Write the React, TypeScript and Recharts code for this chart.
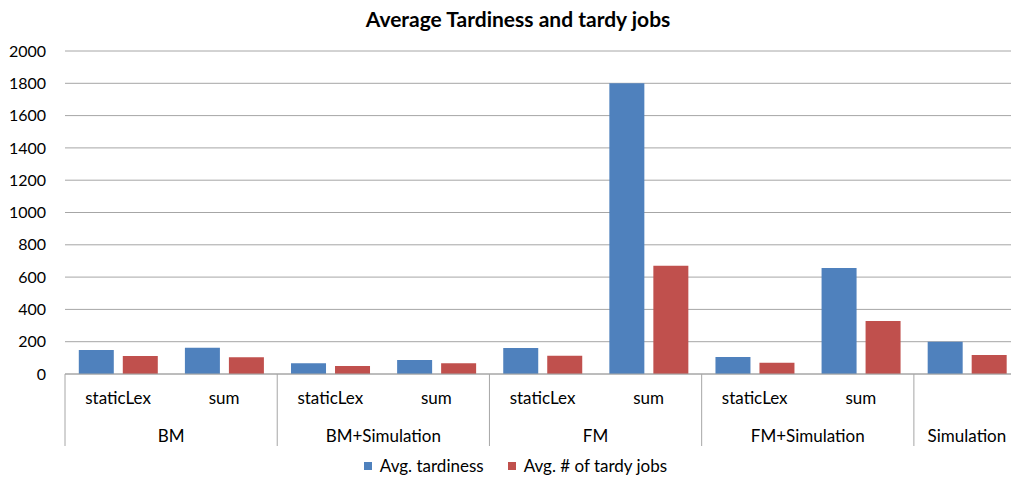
import { BarChart, Bar, XAxis, YAxis, CartesianGrid, Legend } from 'recharts';

const categories = ['staticLex', 'sum', 'staticLex', 'sum', 'staticLex', 'sum', 'staticLex', 'sum', ''];
const groups = [
  'BM', 'BM',
  'BM+Simulation', 'BM+Simulation',
  'FM', 'FM',
  'FM+Simulation', 'FM+Simulation',
  'Simulation',
];
const avgTardiness = [149, 163, 66, 87, 161, 1800, 105, 656, 200];
const avgTardyJobs = [111, 103, 50, 66, 113, 670, 70, 328, 118];
const yTicks = [0, 200, 400, 600, 800, 1000, 1200, 1400, 1600, 1800, 2000];

const chartData = categories.map((c, i) => ({
  id: `${groups[i]}-${c}-${i}`,
  tardiness: avgTardiness[i],
  tardyJobs: avgTardyJobs[i],
}));

const CHART_W = 1020;
const CHART_H = 478;
const Y_AXIS_W = 65;
const BAND = (CHART_W - Y_AXIS_W) / categories.length;
const FONT = 'Lato, "Open Sans", sans-serif';
const AXIS_GRAY = '#a6a6a6';

function CategoryTick(props: any) {
  const { x, y, index } = props;
  const i = index ?? props.payload?.index ?? 0;
  const left = x - BAND / 2;
  const isGroupStart = i === 0 || groups[i] !== groups[i - 1];
  const isLast = i === categories.length - 1;
  let span = 0;
  if (isGroupStart) {
    while (i + span < groups.length && groups[i + span] === groups[i]) span++;
  }
  return (
    <g>
      {categories[i] && (
        <text x={x} y={y + 24} dy="0.35em" textAnchor="middle" fontSize={17} fill="#000" fontFamily={FONT}>
          {categories[i]}
        </text>
      )}
      {isGroupStart && (
        <>
          <line x1={left} x2={left} y1={y} y2={y + 72} stroke={AXIS_GRAY} strokeWidth={1} />
          <text
            x={left + (span * BAND) / 2}
            y={y + 62}
            dy="0.35em"
            textAnchor="middle"
            fontSize={17}
            fill="#000"
            fontFamily={FONT}
          >
            {groups[i]}
          </text>
        </>
      )}
      {isLast && (
        <line x1={x + BAND / 2} x2={x + BAND / 2} y1={y} y2={y + 72} stroke={AXIS_GRAY} strokeWidth={1} />
      )}
    </g>
  );
}

function LegendContent() {
  const items = [
    { label: 'Avg. tardiness', color: '#4F81BD' },
    { label: 'Avg. # of tardy jobs', color: '#C0504D' },
  ];
  return (
    <div style={{ display: 'flex', justifyContent: 'center', gap: 24, fontFamily: FONT, fontSize: 17, color: '#000' }}>
      {items.map((it) => (
        <div key={it.label} style={{ display: 'flex', alignItems: 'center' }}>
          <span style={{ width: 8, height: 8, background: it.color, display: 'inline-block', marginRight: 8 }} />
          <span>{it.label}</span>
        </div>
      ))}
    </div>
  );
}

export default function App() {
  return (
    <div
      style={{
        position: 'absolute',
        left: 0,
        top: 0,
        width: 1011,
        height: CHART_H,
        overflow: 'hidden',
        background: '#fff',
        fontFamily: FONT,
      }}
    >
      <div
        style={{
          position: 'absolute',
          top: 6,
          left: 518 - 250,
          width: 500,
          textAlign: 'center',
          fontWeight: 'bold',
          fontSize: 21,
          color: '#000',
        }}
      >
        Average Tardiness and tardy jobs
      </div>
      <BarChart
        width={CHART_W}
        height={CHART_H}
        data={chartData}
        margin={{ top: 51, right: 0, bottom: 32, left: 0 }}
        barCategoryGap="13%"
        barGap={9}
      >
        <CartesianGrid vertical={false} stroke={AXIS_GRAY} strokeDasharray="" />
        <XAxis
          dataKey="id"
          height={72}
          tickLine={false}
          tickSize={0}
          tickMargin={0}
          axisLine={{ stroke: AXIS_GRAY }}
          interval={0}
          tick={(p: any) => <CategoryTick {...p} />}
        />
        <YAxis
          width={Y_AXIS_W}
          domain={[0, 2000]}
          ticks={yTicks}
          axisLine={false}
          tickLine={false}
          tickSize={0}
          tickMargin={19}
          tick={{ fontSize: 16, fill: '#000', fontFamily: FONT }}
        />
        <Legend
          layout="horizontal"
          verticalAlign="middle"
          align="center"
          wrapperStyle={{ position: 'absolute', top: 455, left: 10, width: 1011 }}
          content={() => <LegendContent />}
        />
        <Bar dataKey="tardiness" name="Avg. tardiness" fill="#4F81BD" isAnimationActive={false} />
        <Bar dataKey="tardyJobs" name="Avg. # of tardy jobs" fill="#C0504D" isAnimationActive={false} />
      </BarChart>
    </div>
  );
}
